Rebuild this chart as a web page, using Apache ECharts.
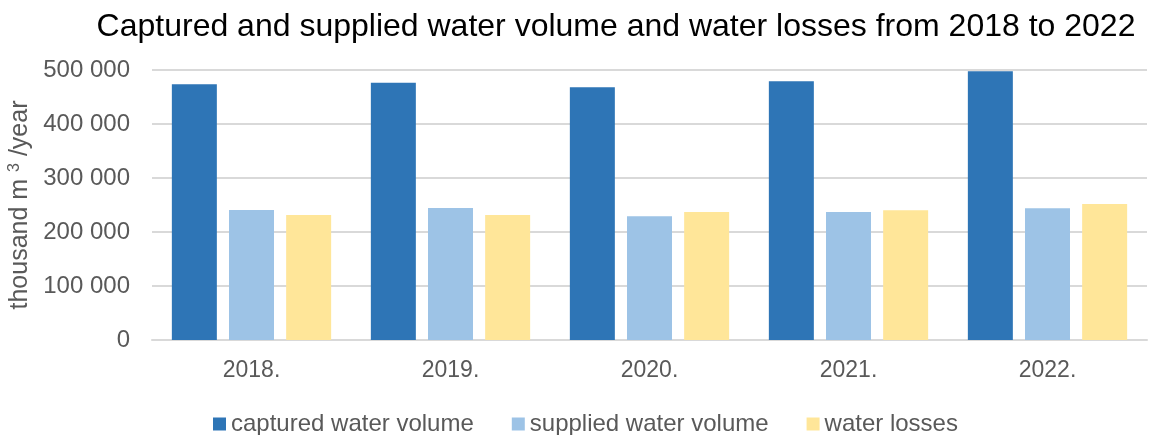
<!DOCTYPE html>
<html>
<head>
<meta charset="utf-8">
<script src="https://cdn.jsdelivr.net/npm/echarts@6/dist/echarts.min.js"></script>
<style>
  html, body { margin: 0; padding: 0; background: #fff; }
  #chart { width: 1149px; height: 435px; }
</style>
</head>
<body>
<div id="chart"></div>
<script>
// data
const years = ['2018.', '2019.', '2020.', '2021.', '2022.'];
const captured = [473500, 476600, 468000, 479100, 497500];
const supplied = [240800, 244500, 229100, 237100, 243800];
const losses = [231500, 231500, 237100, 240100, 251800];

const font = 'Liberation Sans, Arial, sans-serif';
const myChart = echarts.init(document.getElementById('chart'));

const option = {
  animation: false,
  title: {
    text: 'Captured and supplied water volume and water losses from 2018 to 2022',
    left: 611,
    textAlign: 'center',
    top: 6,
    textStyle: { fontFamily: font, fontSize: 32, fontWeight: 'normal', color: '#000' }
  },
  legend: {
    top: 407,
    left: 208,
    itemWidth: 13,
    itemHeight: 13,
    itemGap: 38,
    icon: 'rect',
    textStyle: { fontFamily: font, fontSize: 24, color: '#595959' }
  },
  grid: { left: 152, right: 2, top: 70, bottom: 95, outerBoundsMode: 'none' },
  xAxis: {
    type: 'category',
    data: years,
    axisTick: { show: false },
    axisLine: { lineStyle: { color: '#d9d9d9', width: 2 } },
    axisLabel: { fontFamily: font, fontSize: 23, color: '#595959', margin: 19 }
  },
  yAxis: {
    type: 'value',
    min: 0,
    max: 500000,
    interval: 100000,
    name: '{n|thousand m }{s|3}{n| /year}',
    nameLocation: 'middle',
    nameGap: 116,
    nameTextStyle: {
      rich: {
        n: { fontFamily: font, fontSize: 25, color: '#595959' },
        s: { fontFamily: font, fontSize: 16, color: '#595959', verticalAlign: 'top', padding: [0, 0, 10, 0] }
      }
    },
    splitLine: { lineStyle: { color: '#d9d9d9', width: 2 } },
    axisLabel: {
      fontFamily: font, fontSize: 24, color: '#595959', margin: 22,
      formatter: v => String(v).replace(/\B(?=(\d{3})+(?!\d))/g, ' ')
    }
  },
  series: [
    { name: 'captured water volume', type: 'bar', data: captured, barWidth: 45, barGap: '27%',
      itemStyle: { color: '#2e75b6' } },
    { name: 'supplied water volume', type: 'bar', data: supplied, barWidth: 45,
      itemStyle: { color: '#9dc3e6' } },
    { name: 'water losses', type: 'bar', data: losses, barWidth: 45,
      itemStyle: { color: '#ffe699' } }
  ]
};

myChart.setOption(option);
</script>
</body>
</html>
